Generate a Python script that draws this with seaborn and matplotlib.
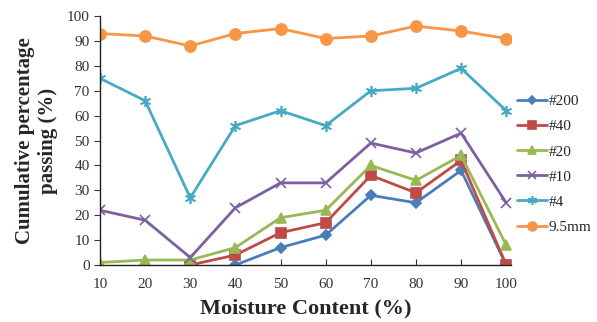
import matplotlib
matplotlib.use('Agg')
import matplotlib.pyplot as plt
import numpy as np
import pandas as pd
import seaborn as sns

# Data
moisture = [10, 20, 30, 40, 50, 60, 70, 80, 90, 100]
sieve_200 = [np.nan, np.nan, np.nan, 0, 7, 12, 28, 25, 38, 0]
sieve_40 = [np.nan, np.nan, 0, 4, 13, 17, 36, 29, 42, 0]
sieve_20 = [1, 2, 2, 7, 19, 22, 40, 34, 44, 8]
sieve_10 = [22, 18, 3, 23, 33, 33, 49, 45, 53, 25]
sieve_4 = [75, 66, 27, 56, 62, 56, 70, 71, 79, 62]
sieve_95 = [93, 92, 88, 93, 95, 91, 92, 96, 94, 91]

series_names = ['#200', '#40', '#20', '#10', '#4', '9.5mm']
series_values = [sieve_200, sieve_40, sieve_20, sieve_10, sieve_4, sieve_95]
colors = ['#4a7ebb', '#be4b48', '#98b954', '#7d60a0', '#46aac5', '#f79646']
markers = ['D', 's', '^', 'x', (6, 2, 0), 'o']
msizes = [5, 7, 7, 7, 8, 8]

rows = []
for name, vals in zip(series_names, series_values):
    for m, v in zip(moisture, vals):
        rows.append({'moisture': m, 'passing': v, 'sieve': name})
df = pd.DataFrame(rows).dropna()

sns.set_style('white')
plt.rcParams['font.family'] = ['Liberation Serif', 'DejaVu Serif']

fig = plt.figure(figsize=(5.97, 3.22), dpi=100)
ax = fig.add_axes([0.1675, 0.177, 0.688, 0.773])

for name, c, mk, ms in zip(series_names, colors, markers, msizes):
    sub = df[df.sieve == name]
    sns.lineplot(data=sub, x='moisture', y='passing', ax=ax, color=c,
                 marker=mk, markersize=ms, linewidth=2.0, label=name,
                 markeredgecolor=c, markeredgewidth=1.2)

ax.set_xlim(10, 101)
ax.set_ylim(0, 100)
ax.set_xticks(moisture)
ax.set_yticks(range(0, 101, 10))
ax.tick_params(axis='x', direction='in', length=4, labelsize=11, colors='#333333', pad=9)
ax.tick_params(axis='y', direction='out', length=4, labelsize=11, colors='#333333')
ax.tick_params(bottom=True, left=True)
for side in ['top', 'right']:
    ax.spines[side].set_visible(False)
for side in ['left', 'bottom']:
    ax.spines[side].set_color('#222222')
    ax.spines[side].set_linewidth(1)
for lbl in ax.get_xticklabels() + ax.get_yticklabels():
    lbl.set_color('#333333')

ax.set_xlabel('Moisture Content (%)', fontsize=16, fontweight='bold', labelpad=6)
ax.set_ylabel('Cumulative percentage\npassing (%)', fontsize=15, fontweight='bold', labelpad=6)

leg = ax.legend(loc='upper left', bbox_to_anchor=(1.015, 0.685), frameon=False,
                fontsize=11, handlelength=2.0, handletextpad=0.1, labelspacing=0.75,
                borderpad=0, borderaxespad=0, markerscale=0.8)

fig.savefig('out.png', dpi=100)
